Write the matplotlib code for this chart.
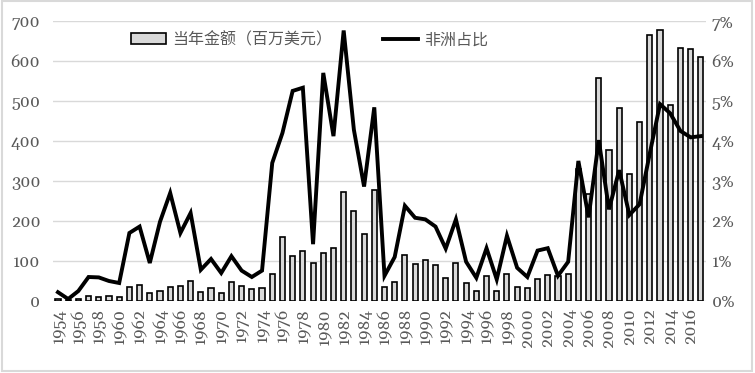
import numpy as np
import matplotlib.pyplot as plt
from matplotlib.patches import Rectangle
from matplotlib.ticker import FuncFormatter

# data
years = list(range(1954, 2018))
amount = [5, 2, 5, 12, 10, 12, 10, 36, 39, 20,
          24, 36, 37, 51, 22, 33, 20, 48, 38, 30,
          33, 68, 160, 112, 125, 96, 120, 133, 272, 226,
          168, 278, 34, 47, 114, 92, 102, 90, 58, 96,
          45, 25, 62, 25, 68, 35, 32, 55, 65, 62,
          67, 330, 267, 558, 378, 483, 318, 448, 665, 676,
          490, 633, 630, 610]
share = [0.22, 0.05, 0.25, 0.60, 0.59, 0.50, 0.45, 1.70, 1.86, 0.95,
         1.98, 2.70, 1.70, 2.20, 0.78, 1.05, 0.70, 1.12, 0.76, 0.60,
         0.76, 3.45, 4.20, 5.25, 5.33, 1.42, 5.70, 4.12, 6.76, 4.28,
         2.86, 4.84, 0.63, 1.10, 2.38, 2.08, 2.04, 1.86, 1.31, 2.04,
         0.98, 0.58, 1.32, 0.54, 1.63, 0.83, 0.60, 1.26, 1.32, 0.63,
         0.98, 3.50, 2.09, 4.02, 2.29, 3.27, 2.15, 2.42, 3.69, 4.92,
         4.69, 4.25, 4.09, 4.12]
bar_label = '当年金额（百万美元）'
line_label = '非洲占比'

grey_txt = '#595959'
plt.rcParams['font.family'] = ['Gelasio', 'Liberation Serif', 'DejaVu Serif']
plt.rcParams['font.size'] = 12

fig = plt.figure(figsize=(7.55, 3.73), dpi=100)
ax = fig.add_axes([0.070, 0.193, 0.865, 0.751])
ax2 = ax.twinx()

x = np.arange(len(years))
bars = ax.bar(x, amount, width=0.5, color='#d9d9d9', edgecolor='black',
              linewidth=1.2, label=bar_label, zorder=2)
line, = ax2.plot(x, share, color='black', linewidth=2.8, label=line_label,
                 solid_joinstyle='miter')

ax.set_xlim(-0.5, len(years) - 0.5)
ax.set_ylim(0, 700)
ax.set_yticks(range(0, 701, 100))
ax2.set_ylim(0, 7)
ax2.set_yticks(range(0, 8))
ax2.yaxis.set_major_formatter(FuncFormatter(lambda v, p: '%d%%' % v))

ax.set_xticks(x[::2])
ax.set_xticklabels([str(y) for y in years[::2]], rotation=90)

ax.yaxis.grid(True, color='#d9d9d9', linewidth=1.0, zorder=0)
ax.set_axisbelow(True)

for a in (ax, ax2):
    for s in a.spines.values():
        s.set_visible(False)
    a.tick_params(length=0, colors=grey_txt, labelsize=12)
ax.tick_params(axis='y', pad=9)
ax2.tick_params(axis='y', pad=4)
ax.tick_params(axis='x', pad=5)

leg = fig.legend([bars, line], [bar_label, line_label], loc='center',
                 bbox_to_anchor=(0.41, 0.893), ncol=2, frameon=False,
                 handlelength=2.2, handletextpad=0.35, columnspacing=3.2,
                 prop={'family': ['Noto Sans CJK SC', 'DejaVu Sans'], 'size': 11.5})
for t in leg.get_texts():
    t.set_color(grey_txt)

fig.patches.append(Rectangle((0.003, 0.006), 0.993, 0.99, transform=fig.transFigure,
                             fill=False, edgecolor='#d9d9d9', linewidth=1.5))

plt.savefig('out.png', dpi=100)
